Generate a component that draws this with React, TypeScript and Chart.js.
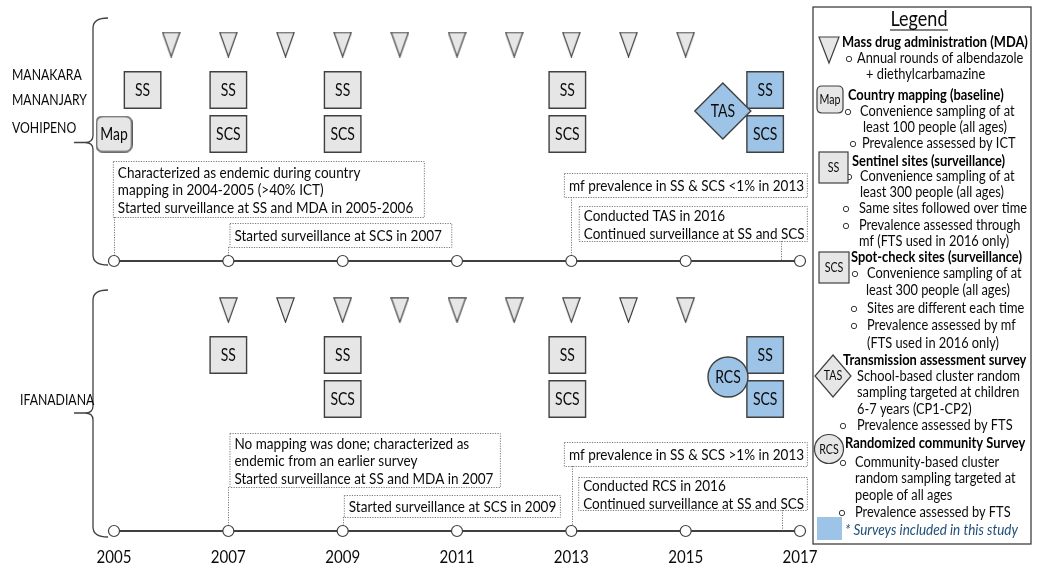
import { useEffect, useRef } from "react";
import { Chart, registerables } from "chart.js";

Chart.register(...registerables);

const FONT = "Lato, 'Open Sans', 'DejaVu Sans', sans-serif";

// ---------------- data ----------------
const timelineYears = [2005, 2007, 2009, 2011, 2013, 2015, 2017];
const mdaYearsEast = [2006, 2007, 2008, 2009, 2010, 2011, 2012, 2013, 2014, 2015];
const mdaYearsIfanadiana = [2007, 2008, 2009, 2010, 2011, 2012, 2013, 2014, 2015];
const mappingYearsEast = [2005];
const ssYearsEast = [2005.5, 2007, 2009, 2012.93];
const scsYearsEast = [2007, 2009, 2012.93];
const tasYearsEast = [2015.65];
const studySsYearsEast = [2016.39];
const studyScsYearsEast = [2016.39];
const ssYearsIfanadiana = [2007, 2009, 2012.93];
const scsYearsIfanadiana = [2009, 2012.93];
const rcsYearsIfanadiana = [2015.74];
const studySsYearsIfanadiana = [2016.39];
const studyScsYearsIfanadiana = [2016.39];

const districtsEast = ["MANAKARA", "MANANJARY", "VOHIPENO"];
const districtsIfanadiana = ["IFANADIANA"];

const notesEast = [
  ["Characterized as endemic during country", "mapping in 2004-2005 (>40% ICT)", "Started surveillance at SS and MDA in 2005-2006"],
  ["Started surveillance at SCS in 2007"],
  ["mf prevalence in SS & SCS <1% in 2013"],
  ["Conducted TAS in 2016", "Continued surveillance at SS and SCS"],
];
const notesIfanadiana = [
  ["No mapping was done; characterized as", "endemic from an earlier survey", "Started surveillance at SS and MDA in 2007"],
  ["Started surveillance at SCS in 2009"],
  ["mf prevalence in SS & SCS >1% in 2013"],
  ["Conducted RCS in 2016", "Continued surveillance at SS and SCS"],
];

const legendTexts = [
  "Mass drug administration (MDA)",
  "Annual rounds of albendazole",
  "+ diethylcarbamazine",
  "Country mapping (baseline)",
  "Convenience sampling of at",
  "least 100 people (all ages)",
  "Prevalence assessed by ICT",
  "Sentinel sites (surveillance)",
  "Convenience sampling of at",
  "least 300 people (all ages)",
  "Same sites followed over time",
  "Prevalence assessed through",
  "mf (FTS used in 2016 only)",
  "Spot-check sites (surveillance)",
  "Convenience sampling of at",
  "least 300 people (all ages)",
  "Sites are different each time",
  "Prevalence assessed by mf",
  "(FTS used in 2016 only)",
  "Transmission assessment survey",
  "School-based cluster random",
  "sampling targeted at children",
  "6-7 years (CP1-CP2)",
  "Prevalence assessed by FTS",
  "Randomized community Survey",
  "Community-based cluster",
  "random sampling targeted at",
  "people of all ages",
  "Prevalence assessed by FTS",
  "* Surveys included in this study",
];

// ---------------- layout & style ----------------
const X_MIN = 2003.0058;
const X_MAX = 2021.1457;
const LANE = {
  east: { mda: 44.5, ss: 90, scs: 134, mid: 111, line: 261 },
  west: { mda: 310, ss: 355, scs: 399, mid: 377, line: 531 },
};
const GRAY = "#e7e6e6";
const BLUE = "#9dc3e6";
const EDGE = "#404040";
const INK = "#0a0a0a";
const SQ_R = 25.8;
const SQ = 1.2; // vertical stretch of text (the source glyphs are taller than Lato at equal width)

// note boxes: x in years, y in layout units
const noteLayoutEast = [
  { x0: 2004.98, x1: 2010.42, top: 161, bottom: 217, leader: 2005 },
  { x0: 2007.02, x1: 2010.9, top: 223, bottom: 247, leader: 2007 },
  { x0: 2012.87, x1: 2017.12, top: 173, bottom: 197, leader: 2013 },
  { x0: 2013.13, x1: 2017.12, top: 206, bottom: 241, leader: 2016.67 },
];
const noteLayoutWest = [
  { x0: 2007.02, x1: 2011.75, top: 433, bottom: 487, leader: 2007 },
  { x0: 2009.02, x1: 2012.8, top: 495, bottom: 517, leader: 2009 },
  { x0: 2012.87, x1: 2017.12, top: 442, bottom: 466, leader: 2013.02 },
  { x0: 2013.12, x1: 2017.12, top: 477, bottom: 510, leader: 2016.69 },
];

// legend rows: kind b=bold r=regular i=italic, x, y, bullet x (0 = none)
const legendLayout: [string, number, number, number][] = [
  ["b", 842, 42, 0],
  ["r", 857, 58, 849],
  ["r", 866, 74, 0],
  ["b", 848, 95, 0],
  ["r", 860, 111, 848],
  ["r", 863, 127, 0],
  ["r", 862, 143, 853],
  ["b", 852, 161, 0],
  ["r", 860, 176, 849],
  ["r", 860, 192, 0],
  ["r", 859, 208, 846],
  ["r", 859, 225, 846],
  ["r", 859, 241, 0],
  ["b", 851, 257, 0],
  ["r", 867, 273, 855],
  ["r", 866, 290, 0],
  ["r", 867, 308, 854],
  ["r", 867, 325, 854],
  ["r", 867, 343, 0],
  ["b", 843, 360, 0],
  ["r", 857, 376, 0],
  ["r", 857, 392, 0],
  ["r", 857, 409, 0],
  ["r", 857, 425, 843],
  ["b", 845, 443, 0],
  ["r", 855, 462, 843],
  ["r", 855, 478, 0],
  ["r", 855, 495, 0],
  ["r", 855, 512, 842],
  ["i", 845, 530, 0],
];

function fit(ctx: CanvasRenderingContext2D, text: string, target: number, weight = "normal", style = "normal") {
  ctx.font = `${style} ${weight} 100px ${FONT}`;
  return (100 * target) / ctx.measureText(text).width;
}
function setFont(ctx: CanvasRenderingContext2D, size: number, weight = "normal", style = "normal") {
  ctx.font = `${style} ${weight} ${size.toFixed(2)}px ${FONT}`;
}
// draw text at a width-fitted size, stretched vertically by SQ
function txt(ctx: CanvasRenderingContext2D, s: string, x: number, y: number, size: number, weight = "normal", style = "normal") {
  setFont(ctx, size, weight, style);
  const w = ctx.measureText(s).width;
  setFont(ctx, size * SQ, weight, style);
  ctx.fillText(s, x, y, w);
  return w;
}

function roundRect(ctx: CanvasRenderingContext2D, x: number, y: number, w: number, h: number, r: number) {
  ctx.beginPath();
  ctx.moveTo(x + r, y);
  ctx.lineTo(x + w - r, y);
  ctx.quadraticCurveTo(x + w, y, x + w, y + r);
  ctx.lineTo(x + w, y + h - r);
  ctx.quadraticCurveTo(x + w, y + h, x + w - r, y + h);
  ctx.lineTo(x + r, y + h);
  ctx.quadraticCurveTo(x, y + h, x, y + h - r);
  ctx.lineTo(x, y + r);
  ctx.quadraticCurveTo(x, y, x + r, y);
  ctx.closePath();
}

function makeTriangle(w: number, h: number) {
  const c = document.createElement("canvas");
  c.width = w;
  c.height = h;
  const g = c.getContext("2d")!;
  g.beginPath();
  g.moveTo(0.8, 0.8);
  g.lineTo(w - 0.8, 0.8);
  g.lineTo(w / 2, h - 0.8);
  g.closePath();
  g.fillStyle = "#e6e6e6";
  g.fill();
  g.strokeStyle = EDGE;
  g.lineWidth = 1.2;
  g.stroke();
  return c;
}
function makeMapBox(s: number) {
  const c = document.createElement("canvas");
  c.width = s;
  c.height = s;
  const g = c.getContext("2d")!;
  roundRect(g, 0.8, 0.8, s - 1.6, s - 1.6, 7);
  g.fillStyle = GRAY;
  g.fill();
  g.strokeStyle = EDGE;
  g.lineWidth = 1.3;
  g.stroke();
  return c;
}

function drawBrace(ctx: CanvasRenderingContext2D, top: number, bottom: number, tip: number) {
  const xe = 108, xv = 93, xt = 74;
  ctx.beginPath();
  ctx.moveTo(xe, top);
  ctx.quadraticCurveTo(xv, top, xv, top + 10);
  ctx.lineTo(xv, tip - 7);
  ctx.quadraticCurveTo(xv, tip, xv - 8, tip);
  ctx.lineTo(xt, tip);
  ctx.moveTo(xv - 8, tip);
  ctx.quadraticCurveTo(xv, tip, xv, tip + 7);
  ctx.lineTo(xv, bottom - 10);
  ctx.quadraticCurveTo(xv, bottom, xe, bottom);
  ctx.strokeStyle = EDGE;
  ctx.lineWidth = 1.3;
  ctx.stroke();
}

const diagramPlugin = {
  id: "diagram",
  beforeDatasetsDraw(chart: any) {
    const ctx: CanvasRenderingContext2D = chart.ctx;
    const xs = chart.scales.x;
    const ys = chart.scales.y;
    const X = (v: number) => xs.getPixelForValue(v);
    const Y = (v: number) => ys.getPixelForValue(v);
    ctx.save();

    // braces
    drawBrace(ctx, Y(18), Y(265), Y(142.5));
    drawBrace(ctx, Y(290), Y(537), Y(413));

    // district names
    const fDist = fit(ctx, "MANANJARY", 75);
    ctx.fillStyle = INK;
    ctx.textBaseline = "middle";
    ctx.textAlign = "left";
    const eastY = [75, 100, 128];
    districtsEast.forEach((d, i) => txt(ctx, d, 12, Y(eastY[i]), fDist));
    districtsIfanadiana.forEach((d) => txt(ctx, d, 20, Y(400), fDist));

    // notes
    const fNote = fit(ctx, "Continued surveillance at SS and SCS", 221);
    const drawNotes = (notes: string[][], layout: any[], lineY: number) => {
      notes.forEach((lines, i) => {
        const L = layout[i];
        const x0 = X(L.x0), x1 = X(L.x1), t = Y(L.top), b = Y(L.bottom);
        ctx.save();
        ctx.setLineDash([1.2, 1.3]);
        ctx.strokeStyle = "#7a7a7a";
        ctx.lineWidth = 1;
        ctx.fillStyle = "#fff";
        ctx.fillRect(x0, t, x1 - x0, b - t);
        ctx.strokeRect(x0 + 0.5, t + 0.5, x1 - x0, b - t);
        const lx = Math.round(X(L.leader)) + 0.5;
        ctx.beginPath();
        ctx.moveTo(lx, b);
        ctx.lineTo(lx, Y(lineY));
        ctx.stroke();
        ctx.restore();
        ctx.fillStyle = INK;
        const lh = 17.6;
        const mid = (t + b) / 2 + 1;
        lines.forEach((s, k) => {
          txt(ctx, s, x0 + 5, mid + (k - (lines.length - 1) / 2) * lh, fNote);
        });
      });
    };
    drawNotes(notesEast, noteLayoutEast, LANE.east.line);
    drawNotes(notesIfanadiana, noteLayoutWest, LANE.west.line);

    // legend
    ctx.strokeStyle = EDGE;
    ctx.lineWidth = 1.3;
    ctx.strokeRect(813, 7, 218, 537);
    const fTitle = fit(ctx, "Legend", 57);
    ctx.textAlign = "center";
    ctx.fillStyle = INK;
    txt(ctx, "Legend", 919, 19, fTitle);
    ctx.beginPath();
    ctx.moveTo(890, 30);
    ctx.lineTo(948, 30);
    ctx.lineWidth = 1.2;
    ctx.strokeStyle = INK;
    ctx.stroke();
    ctx.textAlign = "left";
    const fReg = fit(ctx, "Same sites followed over time", 168);
    const fBold = fit(ctx, "Mass drug administration (MDA)", 186, "bold");
    const fIt = fit(ctx, "* Surveys included in this study", 173, "normal", "italic");
    legendTexts.forEach((t, i) => {
      const [kind, x, y, bx] = legendLayout[i];
      if (kind === "b") {
        ctx.fillStyle = "#000";
        txt(ctx, t, x, y, fBold, "bold");
      } else if (kind === "i") {
        ctx.fillStyle = "#1f4e79";
        txt(ctx, t, x, y, fIt, "normal", "italic");
      } else {
        ctx.fillStyle = INK;
        txt(ctx, t, x, y, fReg);
      }
      if (bx) {
        ctx.beginPath();
        ctx.arc(bx, y + 1, 2.7, 0, Math.PI * 2);
        ctx.strokeStyle = "#222";
        ctx.lineWidth = 0.9;
        ctx.stroke();
      }
    });

    // legend glyphs
    const fGlyph = fit(ctx, "Map", 21);
    ctx.lineWidth = 1.2;
    ctx.strokeStyle = EDGE;
    ctx.fillStyle = "#e6e6e6";
    ctx.beginPath();
    ctx.moveTo(819, 37);
    ctx.lineTo(839, 37);
    ctx.lineTo(829, 63);
    ctx.closePath();
    ctx.fill();
    ctx.stroke();

    const glyphText = (s: string, x: number, y: number) => {
      ctx.fillStyle = INK;
      ctx.textAlign = "center";
      txt(ctx, s, x, y, fGlyph);
      ctx.textAlign = "left";
    };
    roundRect(ctx, 817, 86, 26, 27, 5);
    ctx.fillStyle = GRAY;
    ctx.fill();
    ctx.stroke();
    glyphText("Map", 830, 100);

    ctx.fillStyle = GRAY;
    ctx.fillRect(819, 152, 29, 31);
    ctx.strokeRect(819, 152, 29, 31);
    glyphText("SS", 833.5, 168);

    ctx.fillStyle = GRAY;
    ctx.fillRect(819, 252, 30, 31);
    ctx.strokeRect(819, 252, 30, 31);
    glyphText("SCS", 834, 268);

    ctx.beginPath();
    ctx.moveTo(833, 355);
    ctx.lineTo(851, 376);
    ctx.lineTo(833, 397);
    ctx.lineTo(815, 376);
    ctx.closePath();
    ctx.fillStyle = GRAY;
    ctx.fill();
    ctx.stroke();
    glyphText("TAS", 833, 376);

    ctx.beginPath();
    ctx.arc(829, 449, 14.5, 0, Math.PI * 2);
    ctx.fillStyle = GRAY;
    ctx.fill();
    ctx.stroke();
    glyphText("RCS", 829, 450);

    ctx.fillStyle = BLUE;
    ctx.fillRect(817, 517, 25, 23);

    ctx.restore();
  },
  afterDatasetsDraw(chart: any) {
    const ctx: CanvasRenderingContext2D = chart.ctx;
    const xs = chart.scales.x;
    ctx.save();
    const fMark = fit(ctx, "SCS", 24.5);
    ctx.fillStyle = INK;
    ctx.textAlign = "center";
    ctx.textBaseline = "middle";
    chart.data.datasets.forEach((ds: any, i: number) => {
      if (!ds.markText) return;
      const meta = chart.getDatasetMeta(i);
      meta.data.forEach((el: any) => txt(ctx, ds.markText, el.x, el.y + 1, fMark));
    });
    const fYear = fit(ctx, "2005", 35);
    ctx.fillStyle = INK;
    timelineYears.forEach((y) => txt(ctx, String(y), xs.getPixelForValue(y), 557, fYear));
    ctx.restore();
  },
};

export default function App() {
  const ref = useRef<HTMLCanvasElement>(null);
  useEffect(() => {
    if (!ref.current) return;
    const tri = makeTriangle(19, 26);
    const mapBox = makeMapBox(37);
    const pts = (years: number[], y: number) => years.map((x) => ({ x, y }));
    const marks = (years: number[], y: number, style: any, radius: number, fill: string, text?: string) => ({
      data: pts(years, y),
      pointStyle: style,
      pointRadius: radius,
      pointHoverRadius: radius,
      pointBackgroundColor: fill,
      backgroundColor: fill,
      pointBorderColor: EDGE,
      borderColor: EDGE,
      pointBorderWidth: 1.4,
      showLine: false,
      clip: false,
      markText: text,
    });
    const timeline = (y: number) => ({
      data: pts(timelineYears, y),
      showLine: true,
      borderColor: EDGE,
      borderWidth: 2,
      pointStyle: "circle",
      pointRadius: 5.5,
      pointHoverRadius: 5.5,
      pointBackgroundColor: "#fff",
      pointBorderColor: EDGE,
      pointBorderWidth: 1.2,
      clip: false,
    });
    const chart = new Chart(ref.current, {
      type: "scatter",
      data: {
        datasets: [
          marks(tasYearsEast, LANE.east.mid, "rectRot", 28, BLUE, "TAS"),
          marks(rcsYearsIfanadiana, LANE.west.mid, "circle", 20, BLUE, "RCS"),
          marks(studySsYearsEast, LANE.east.ss, "rect", SQ_R, BLUE, "SS"),
          marks(studyScsYearsEast, LANE.east.scs, "rect", SQ_R, BLUE, "SCS"),
          marks(studySsYearsIfanadiana, LANE.west.ss, "rect", SQ_R, BLUE, "SS"),
          marks(studyScsYearsIfanadiana, LANE.west.scs, "rect", SQ_R, BLUE, "SCS"),
          marks(ssYearsEast, LANE.east.ss, "rect", SQ_R, GRAY, "SS"),
          marks(scsYearsEast, LANE.east.scs, "rect", SQ_R, GRAY, "SCS"),
          marks(ssYearsIfanadiana, LANE.west.ss, "rect", SQ_R, GRAY, "SS"),
          marks(scsYearsIfanadiana, LANE.west.scs, "rect", SQ_R, GRAY, "SCS"),
          marks(mappingYearsEast, LANE.east.scs, mapBox, 18, GRAY, "Map"),
          marks(mdaYearsEast, LANE.east.mda, tri, 12, GRAY),
          marks(mdaYearsIfanadiana, LANE.west.mda, tri, 12, GRAY),
          timeline(LANE.east.line),
          timeline(LANE.west.line),
        ] as any,
      },
      options: {
        animation: false,
        responsive: true,
        maintainAspectRatio: false,
        events: [],
        layout: { padding: 0, autoPadding: false },
        plugins: { legend: { display: false }, tooltip: { enabled: false }, title: { display: false } },
        scales: {
          x: { type: "linear", min: X_MIN, max: X_MAX, display: false },
          y: { type: "linear", min: 0, max: 569, reverse: true, display: false },
        },
      },
      plugins: [diagramPlugin],
    });
    return () => chart.destroy();
  }, []);
  return (
    <div style={{ position: "fixed", left: 0, top: 0, width: 1037, height: 569, background: "#fff" }}>
      <canvas ref={ref} />
    </div>
  );
}
